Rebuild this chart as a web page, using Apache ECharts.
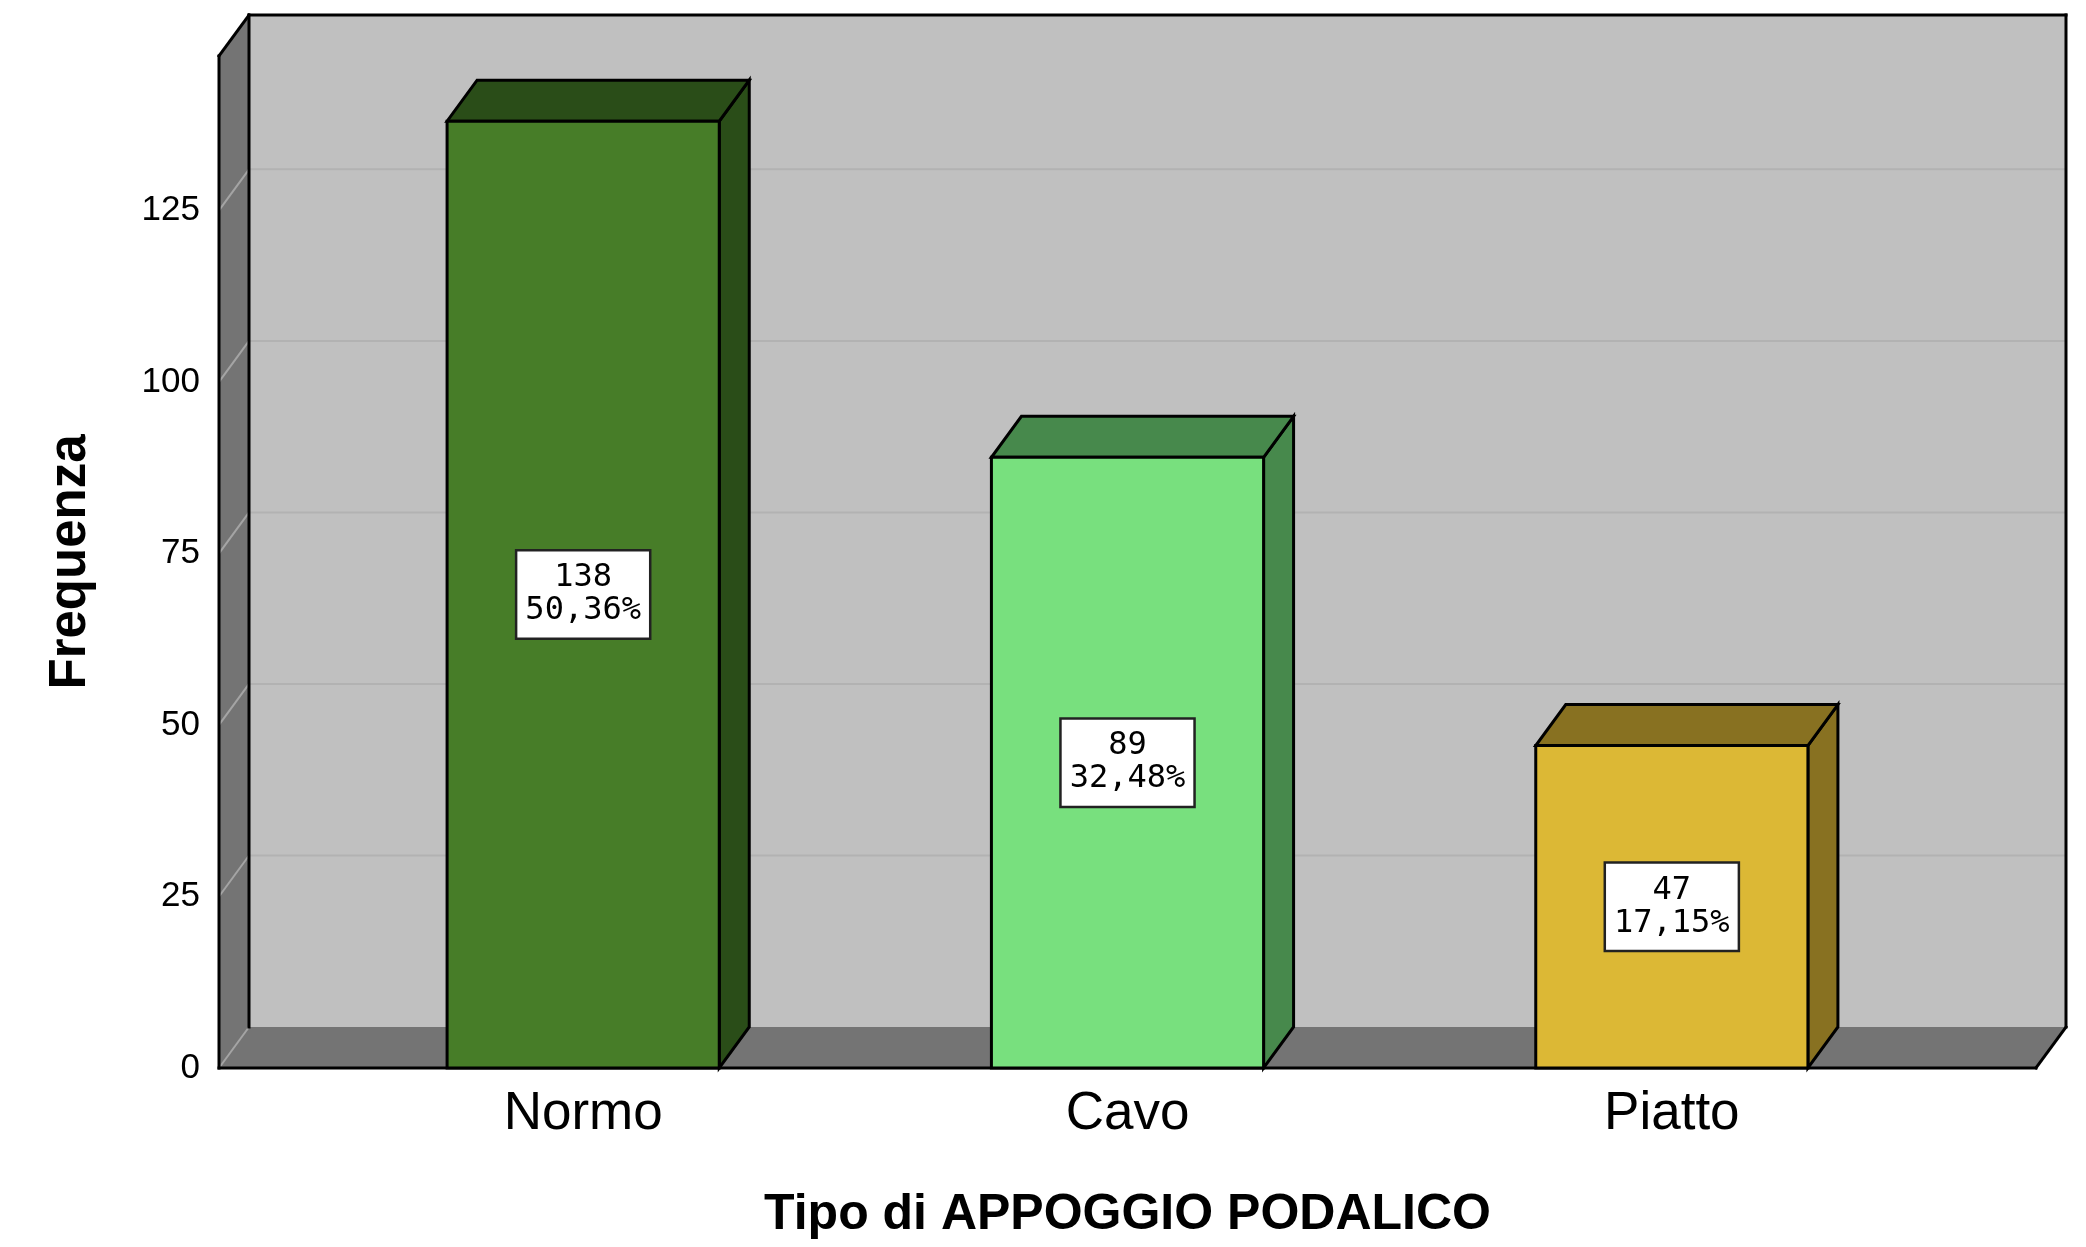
<!DOCTYPE html>
<html>
<head>
<meta charset="utf-8">
<script src="https://cdn.jsdelivr.net/npm/echarts@6/dist/echarts.min.js"></script>
<style>
html,body{margin:0;padding:0;background:#fff;}
#chart{width:2086px;height:1247px;}
</style>
</head>
<body>
<div id="chart"></div>
<script>
// ---- data ----
const categories = ['Normo', 'Cavo', 'Piatto'];
const counts = [138, 89, 47];
const percents = ['50,36%', '32,48%', '17,15%'];
const yTicks = [0, 25, 50, 75, 100, 125];
const yMax = 147.5;
const xTitle = 'Tipo di APPOGGIO PODALICO';
const yTitle = 'Frequenza';

// ---- styles ----
const frontColors = ['#477d28', '#78e07e', '#dcb835'];
const shadeColors = ['#2a4d18', '#47894c', '#887121'];
const DX = 30, DY = -41;          // 3D depth offset
const EXT = 0.169;                // wall extension beyond first/last band (fraction of band)

const chart = echarts.init(document.getElementById('chart'), null, {renderer: 'canvas'});

function roomRender(params, api) {
  const cs = params.coordSys;
  const band = cs.width / categories.length;
  const xL = cs.x - band * EXT, xR = cs.x + cs.width + band * EXT;
  const yB = api.coord([0, 0])[1];
  const yT = api.coord([0, yMax])[1];
  const children = [];
  // back wall
  children.push({type: 'rect', shape: {x: xL + DX, y: yT + DY, width: xR - xL, height: yB - yT},
    style: {fill: '#c0c0c0'}});
  // left wall
  children.push({type: 'polygon', shape: {points: [[xL, yT], [xL + DX, yT + DY], [xL + DX, yB + DY], [xL, yB]]},
    style: {fill: '#747474'}});
  // floor
  children.push({type: 'polygon', shape: {points: [[xL, yB], [xR, yB], [xR + DX, yB + DY], [xL + DX, yB + DY]]},
    style: {fill: '#747474'}});
  // gridlines
  yTicks.forEach(v => {
    const y = api.coord([0, v])[1];
    if (v > 0) {
      children.push({type: 'line', shape: {x1: xL + DX, y1: y + DY, x2: xR + DX, y2: y + DY},
        style: {stroke: '#b2b2b2', lineWidth: 2}});
    }
    children.push({type: 'line', shape: {x1: xL, y1: y, x2: xL + DX, y2: y + DY},
      style: {stroke: '#a4a4a4', lineWidth: 2}});
  });
  // edges
  const edge = (x1, y1, x2, y2) => children.push({type: 'line', shape: {x1, y1, x2, y2},
    style: {stroke: '#000', lineWidth: 3, lineCap: 'square'}});
  edge(xL + DX, yT + DY, xL + DX, yB + DY);
  edge(xL, yT, xL, yB);
  edge(xL, yT, xL + DX, yT + DY);
  edge(xL + DX, yT + DY, xR + DX, yT + DY);
  edge(xR + DX, yT + DY, xR + DX, yB + DY);
  edge(xL, yB, xR, yB);
  edge(xR, yB, xR + DX, yB + DY);
  return {type: 'group', children};
}

function barRender(params, api) {
  const idx = api.value(0), v = api.value(1);
  const top = api.coord([idx, v]);
  const base = api.coord([idx, 0]);
  const band = api.size([1, 0])[0];
  const w = band * 0.5;
  const x0 = top[0] - w / 2, x1 = top[0] + w / 2, yT = top[1], yB = base[1];
  const i = params.dataIndex;
  const lineStyle = {stroke: '#000', lineWidth: 3, lineJoin: 'miter'};
  return {type: 'group', children: [
    {type: 'polygon', shape: {points: [[x1, yT], [x1 + DX, yT + DY], [x1 + DX, yB + DY], [x1, yB]]},
      style: Object.assign({fill: shadeColors[i]}, lineStyle)},
    {type: 'polygon', shape: {points: [[x0, yT], [x1, yT], [x1 + DX, yT + DY], [x0 + DX, yT + DY]]},
      style: Object.assign({fill: shadeColors[i]}, lineStyle)},
    {type: 'rect', shape: {x: x0, y: yT, width: w, height: yB - yT},
      style: Object.assign({fill: frontColors[i]}, lineStyle)},
    {type: 'text', x: top[0], y: (yT + yB) / 2,
      style: {text: counts[i] + '\n' + percents[i], align: 'center', verticalAlign: 'middle',
        font: '32px "DejaVu Sans Mono"', fill: '#000', lineHeight: 33,
        backgroundColor: '#fff', borderColor: '#222', borderWidth: 2.5, padding: [10, 8, 10, 8]}}
  ]};
}

chart.setOption({
  animation: false,
  backgroundColor: '#fff',
  grid: {left: 311, right: 142, top: 56, bottom: 179, containLabel: false},
  xAxis: {
    type: 'category', data: categories, boundaryGap: true,
    axisLine: {show: false}, axisTick: {show: false}, splitLine: {show: false},
    axisLabel: {fontSize: 53, fontFamily: 'Liberation Sans', color: '#000', margin: 20},
    name: xTitle, nameLocation: 'middle', nameGap: 122,
    nameTextStyle: {fontSize: 50, fontWeight: 'bold', fontFamily: 'Liberation Sans', color: '#000'}
  },
  yAxis: {
    type: 'value', min: 0, max: yMax, interval: 25,
    axisLine: {show: false}, axisTick: {show: false}, splitLine: {show: false},
    axisLabel: {fontSize: 35, fontFamily: 'Liberation Sans', color: '#000', margin: 111,
      formatter: v => yTicks.indexOf(v) >= 0 ? String(v) : ''},
    name: yTitle, nameLocation: 'middle', nameGap: 215, nameRotate: 90,
    nameTextStyle: {fontSize: 51, fontWeight: 'bold', fontFamily: 'Liberation Sans', color: '#000'}
  },
  series: [
    {type: 'custom', z: 1, silent: true, renderItem: roomRender, data: [[0, 0]], clip: false},
    {type: 'custom', z: 2, silent: true, renderItem: barRender,
      data: categories.map((c, i) => [i, counts[i]]), encode: {x: 0, y: 1}, clip: false}
  ]
});
</script>
</body>
</html>
